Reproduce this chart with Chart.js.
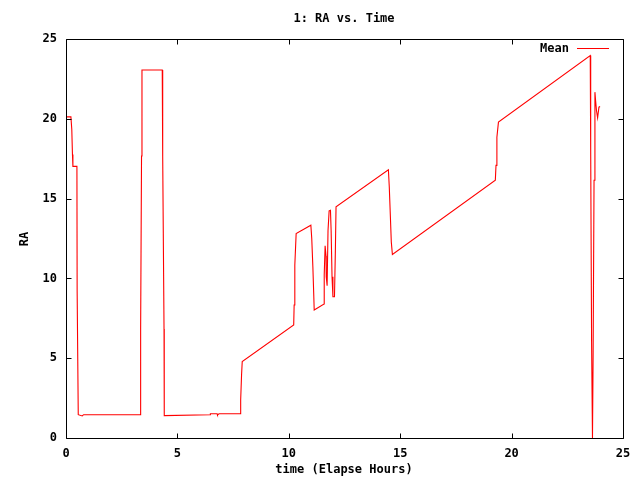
<!DOCTYPE html>
<html>
<head>
<meta charset="utf-8">
<script src="https://cdn.jsdelivr.net/npm/chart.js@4/dist/chart.umd.min.js"></script>
<style>
  html, body { margin: 0; padding: 0; background: #ffffff; }
  canvas { display: block; }
</style>
</head>
<body>
<canvas id="c" width="640" height="480"></canvas>
<script>
// ---- Data ----
const chartTitle = "1: RA vs. Time";
const xAxisTitle = "time (Elapse Hours)";
const yAxisTitle = "RA";
const seriesName = "Mean";

const hours = [
  0.00, 0.22, 0.26, 0.29, 0.31, 0.49, 0.50, 0.55, 0.73, 0.79,
  3.33, 3.35, 3.39, 3.41, 4.32, 4.34, 4.40, 4.41, 6.47, 6.48,
  6.78, 6.80, 6.87, 7.82, 7.84, 7.88, 7.91, 10.22, 10.24, 10.27,
  10.33, 10.99, 11.03, 11.08, 11.12, 11.14, 11.58, 11.59, 11.63, 11.67,
  11.68, 11.72, 11.76, 11.81, 11.87, 11.90, 11.94, 11.98, 12.05, 12.09,
  12.12, 14.47, 14.51, 14.56, 14.60, 14.65, 19.27, 19.30, 19.34, 19.41,
  23.53, 23.55, 23.59, 23.63, 23.66, 23.70, 23.74, 23.77, 23.81, 23.86,
  23.92, 23.97
];
const raMean = [
  20.12, 20.12, 19.33, 17.77, 17.02, 17.02, 9.23, 1.46, 1.38, 1.46,
  1.46, 6.83, 17.67, 23.06, 23.06, 17.67, 6.83, 1.40, 1.46, 1.52,
  1.52, 1.45, 1.52, 1.52, 2.40, 3.96, 4.79, 7.08, 8.33, 10.83,
  12.81, 13.33, 12.50, 10.73, 8.96, 8.02, 8.40, 10.21, 12.04, 11.40,
  10.10, 9.54, 12.98, 14.23, 14.27, 12.98, 10.10, 8.85, 8.85, 11.73,
  14.48, 16.81, 15.73, 13.85, 12.29, 11.50, 16.15, 17.08, 18.85, 19.79,
  23.96, 18.02, 6.04, 0.00, 5.42, 16.15, 21.67, 21.15, 20.52, 20.06,
  20.73, 20.77
];
const xTicks = [0, 5, 10, 15, 20, 25];
const yTicks = [0, 5, 10, 15, 20, 25];

const points = hours.map((h, i) => ({ x: h, y: raMean[i] }));

const FONT = "bold 12px 'DejaVu Sans Mono', 'Liberation Mono', monospace";

const framePlugin = {
  id: 'gnuplotFrame',
  afterDraw(chart) {
    const ctx = chart.ctx;
    const a = chart.chartArea;
    const xs = chart.scales.x, ys = chart.scales.y;
    ctx.save();
    ctx.strokeStyle = '#000000';
    ctx.lineWidth = 1;
    const L = Math.round(a.left) + 0.5, R = Math.round(a.right) + 0.5;
    const T = Math.round(a.top) + 0.5, B = Math.round(a.bottom) + 0.5;
    ctx.beginPath();
    ctx.rect(L, T, R - L, B - T);
    ctx.stroke();
    const tl = 5;
    ctx.beginPath();
    xTicks.forEach(v => {
      const px = Math.round(xs.getPixelForValue(v)) + 0.5;
      ctx.moveTo(px, B); ctx.lineTo(px, B - tl);
      ctx.moveTo(px, T); ctx.lineTo(px, T + tl);
    });
    yTicks.forEach(v => {
      const py = Math.round(ys.getPixelForValue(v)) + 0.5;
      ctx.moveTo(L, py); ctx.lineTo(L + tl, py);
      ctx.moveTo(R, py); ctx.lineTo(R - tl, py);
    });
    ctx.stroke();

    ctx.fillStyle = '#000000';
    ctx.font = FONT;
    ctx.textBaseline = 'middle';
    ctx.textAlign = 'center';
    ctx.fillText(chartTitle, 344, 19);
    ctx.fillText(xAxisTitle, 344, 470);
    ctx.save();
    ctx.translate(25, 239);
    ctx.rotate(-Math.PI / 2);
    ctx.fillText(yAxisTitle, 0, 0);
    ctx.restore();

    ctx.textAlign = 'right';
    ctx.fillText(seriesName, 569, 49);
    ctx.strokeStyle = '#ff0000';
    ctx.beginPath();
    ctx.moveTo(577, 48.5);
    ctx.lineTo(609, 48.5);
    ctx.stroke();
    ctx.restore();
  }
};

new Chart(document.getElementById('c'), {
  type: 'line',
  data: {
    datasets: [{
      label: seriesName,
      data: points,
      borderColor: '#ff0000',
      backgroundColor: '#ff0000',
      borderWidth: 1.1,
      pointRadius: 0,
      tension: 0,
      fill: false
    }]
  },
  options: {
    responsive: false,
    animation: false,
    devicePixelRatio: 1,
    layout: { padding: { left: 0, right: 17, top: 39, bottom: 0 } },
    plugins: {
      legend: { display: false },
      title: { display: false },
      tooltip: { enabled: false }
    },
    scales: {
      x: {
        type: 'linear',
        min: 0, max: 25,
        afterFit(s) { s.height = 42; },
        afterBuildTicks(s) { s.ticks = xTicks.map(v => ({ value: v })); },
        grid: { display: false, drawTicks: false },
        border: { display: false },
        ticks: { padding: 9, color: '#000', font: { family: "'DejaVu Sans Mono'", size: 12, weight: 'bold' }, maxRotation: 0 }
      },
      y: {
        type: 'linear',
        min: 0, max: 25,
        afterFit(s) { s.width = 66; },
        afterBuildTicks(s) { s.ticks = yTicks.map(v => ({ value: v })); },
        grid: { display: false, drawTicks: false },
        border: { display: false },
        ticks: { padding: 9, color: '#000', font: { family: "'DejaVu Sans Mono'", size: 12, weight: 'bold' } }
      }
    }
  },
  plugins: [framePlugin]
});
</script>
</body>
</html>
